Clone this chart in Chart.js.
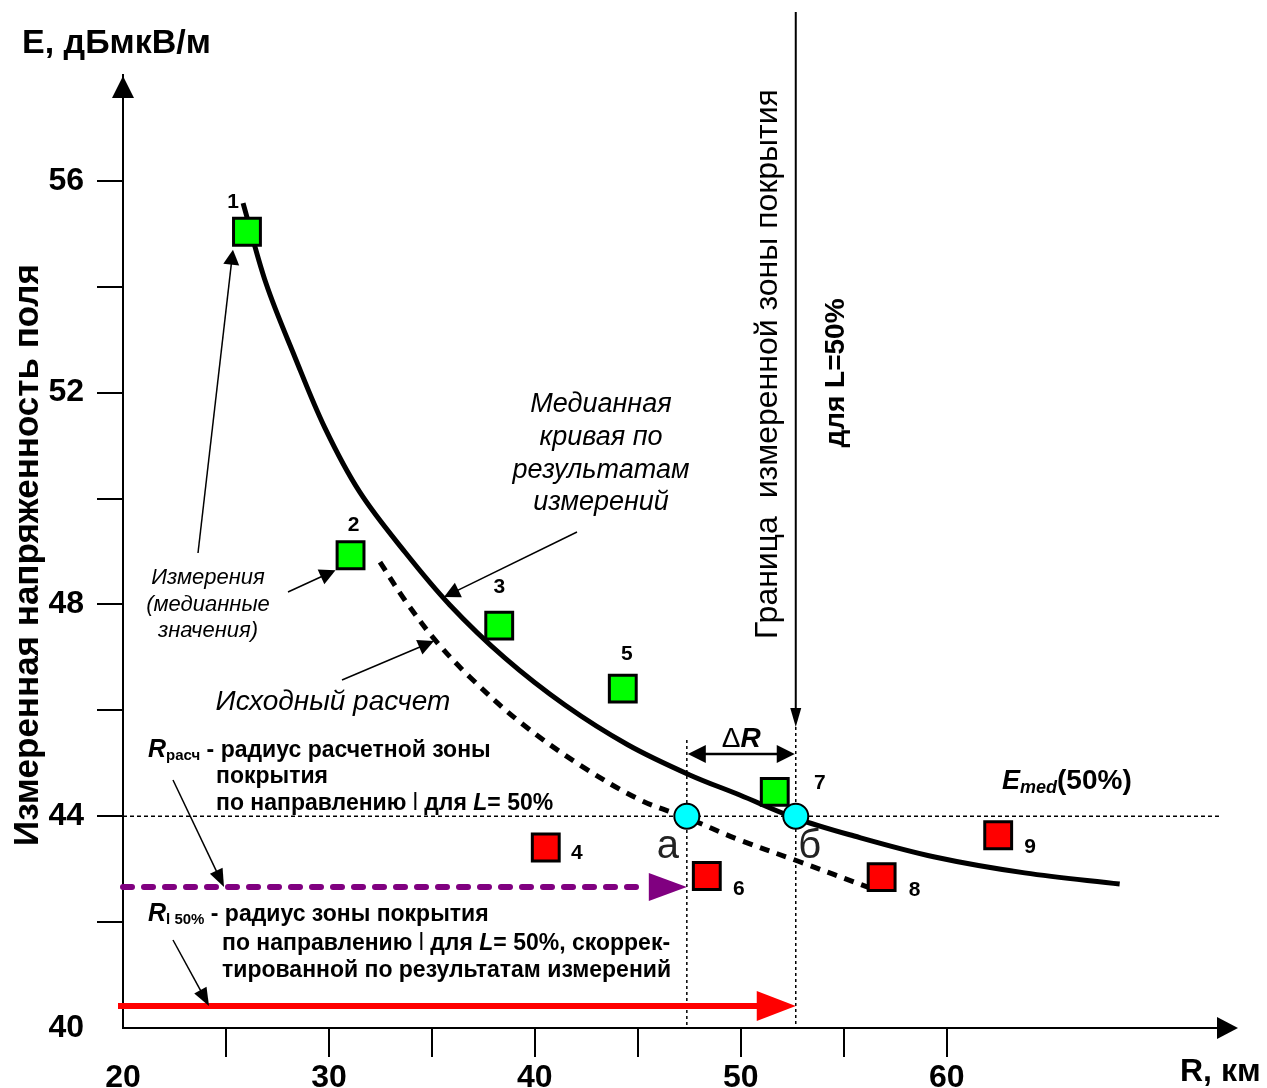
<!DOCTYPE html>
<html>
<head>
<meta charset="utf-8">
<script src="https://cdn.jsdelivr.net/npm/chart.js@4.4.1/dist/chart.umd.min.js"></script>
<style>
  html, body { margin: 0; padding: 0; background: #fff; }
  #wrap { width: 1267px; height: 1088px; }
</style>
</head>
<body>
<div id="wrap"><canvas id="chart" width="1267" height="1088"></canvas></div>
<script>
// axes
const xTicks = [20, 25, 30, 35, 40, 45, 50, 55, 60];
const xLabels = [20, 30, 40, 50, 60];
const yTicks = [40, 42, 44, 46, 48, 50, 52, 54, 56];
const yLabels = [40, 44, 48, 52, 56];

// median curve from measurements
const medianR = [25.83, 26.94, 28.35, 29.81, 31.50, 33.69, 35.87, 38.54, 41.46, 44.51, 47.52, 49.95, 52.62, 55.29, 59.42, 63.79, 68.40];
const medianE = [55.58, 54.07, 52.67, 51.33, 50.12, 48.99, 47.99, 46.99, 46.10, 45.35, 44.78, 44.40, 43.97, 43.65, 43.23, 42.93, 42.72];

// initial calculation (dashed)
const calcR = [32.48, 33.69, 35.15, 36.84, 39.27, 42.18, 45.10, 47.38, 49.95, 52.86, 56.17];
const calcE = [48.80, 48.08, 47.33, 46.63, 45.78, 44.97, 44.31, 43.97, 43.55, 43.14, 42.66];

// measured points
const greenR = [26.02, 31.05, 38.27, 44.27, 51.65];
const greenE = [55.04, 48.93, 47.60, 46.41, 44.46];
const greenIds = ["1", "2", "3", "5", "7"];
const redR = [40.53, 48.35, 56.84, 62.50];
const redE = [43.41, 42.87, 42.85, 43.64];
const redIds = ["4", "6", "8", "9"];

// crossings with E = Emed(50%)
const eMed = 44;
const crossR = [47.38, 52.67];
const crossIds = ["а", "б"];

const FONT = "'Liberation Sans', Arial, sans-serif";
const pts = (xs, ys) => xs.map((x, i) => ({ x: x, y: ys[i] }));

// label offsets in px for point numbers
const greenOff = [[-14, -30], [3, -30], [0, -38], [4, -34], [45, -9]];
const redOff = [[31, 6], [32, 13], [33, 13], [32, 12]];

function arrowHead(ctx, x1, y1, x2, y2, len, half, color) {
  const a = Math.atan2(y2 - y1, x2 - x1);
  ctx.save();
  ctx.fillStyle = color;
  ctx.beginPath();
  ctx.moveTo(x2, y2);
  ctx.lineTo(x2 - len * Math.cos(a) + half * Math.sin(a), y2 - len * Math.sin(a) - half * Math.cos(a));
  ctx.lineTo(x2 - len * Math.cos(a) - half * Math.sin(a), y2 - len * Math.sin(a) + half * Math.cos(a));
  ctx.closePath();
  ctx.fill();
  ctx.restore();
}

function arrow(ctx, x1, y1, x2, y2, opt) {
  const o = Object.assign({ w: 1.5, len: 16, half: 7, color: "#000", dash: [] }, opt || {});
  const a = Math.atan2(y2 - y1, x2 - x1);
  ctx.save();
  ctx.strokeStyle = o.color;
  ctx.lineWidth = o.w;
  ctx.setLineDash(o.dash);
  ctx.beginPath();
  ctx.moveTo(x1, y1);
  ctx.lineTo(x2 - (o.len - 2) * Math.cos(a), y2 - (o.len - 2) * Math.sin(a));
  ctx.stroke();
  ctx.restore();
  arrowHead(ctx, x1, y1, x2, y2, o.len, o.half, o.color);
}

function line(ctx, x1, y1, x2, y2, w, dash) {
  ctx.save();
  ctx.strokeStyle = "#000";
  ctx.lineWidth = w;
  ctx.setLineDash(dash || []);
  ctx.beginPath();
  ctx.moveTo(x1, y1);
  ctx.lineTo(x2, y2);
  ctx.stroke();
  ctx.restore();
}

// parts: [text, font, dy]
function rich(ctx, x, y, parts, align) {
  ctx.save();
  ctx.fillStyle = "#000";
  ctx.textBaseline = "alphabetic";
  ctx.textAlign = "left";
  let total = 0;
  parts.forEach(p => { ctx.font = p[1]; total += ctx.measureText(p[0]).width; });
  let cx = align === "center" ? x - total / 2 : x;
  parts.forEach(p => {
    ctx.font = p[1];
    ctx.fillText(p[0], cx, y + (p[2] || 0));
    cx += ctx.measureText(p[0]).width;
  });
  ctx.restore();
}

function text(ctx, s, x, y, font, align, rot) {
  ctx.save();
  ctx.fillStyle = "#000";
  ctx.font = font;
  ctx.textAlign = align || "left";
  ctx.textBaseline = rot ? "middle" : "alphabetic";
  ctx.translate(x, y);
  if (rot) ctx.rotate(rot);
  ctx.fillText(s, 0, 0);
  ctx.restore();
}

const annot = {
  id: "annot",
  beforeDatasetsDraw(chart) {
    const ctx = chart.ctx;
    const xs = chart.scales.x, ys = chart.scales.y;
    const yMed = ys.getPixelForValue(eMed);
    const yAxis = ys.getPixelForValue(40);
    const xa = xs.getPixelForValue(crossR[0]);
    const xb = xs.getPixelForValue(crossR[1]);
    // Emed line
    line(ctx, xs.getPixelForValue(20), yMed, 1220, yMed, 1.5, [4, 3]);
    // vertical dotted lines
    line(ctx, xa, 740, xa, yAxis, 1.5, [3, 3]);
    line(ctx, xb, 727, xb, yAxis, 1.5, [3, 3]);
    // coverage boundary arrow
    arrow(ctx, xb, 12, xb, 727, { w: 2, len: 19, half: 5.5 });
  },
  afterDatasetsDraw(chart) {
    const ctx = chart.ctx;
    const xs = chart.scales.x;
    const xa = xs.getPixelForValue(crossR[0]);
    const xb = xs.getPixelForValue(crossR[1]);
    const left = chart.chartArea.left, bottom = chart.chartArea.bottom;

    // axis arrows
    arrowHead(ctx, 0, bottom, 1238, bottom, 21, 11, "#000");
    arrowHead(ctx, left, 500, left, 76, 22, 11, "#000");

    // delta R
    const yd = 754;
    line(ctx, xa + 10, yd, xb - 10, yd, 2.5);
    arrowHead(ctx, xb, yd, xa + 1, yd, 18, 9, "#000");
    arrowHead(ctx, xa, yd, xb - 1, yd, 18, 9, "#000");
    rich(ctx, (xa + xb) / 2, 747, [["Δ", "28px " + FONT], ["R", "italic bold 28px " + FONT]], "center");

    // purple dashed arrow (R calc)
    const yp = 887;
    ctx.save();
    ctx.strokeStyle = "#800080";
    ctx.lineWidth = 6;
    ctx.lineCap = "round";
    ctx.setLineDash([9, 12]);
    ctx.beginPath();
    ctx.moveTo(left, yp);
    ctx.lineTo(xa - 40, yp);
    ctx.stroke();
    ctx.restore();
    arrowHead(ctx, left, yp, xa, yp, 38, 14, "#800080");

    // red arrow (R l 50%)
    const yr = 1006;
    ctx.save();
    ctx.strokeStyle = "#ff0000";
    ctx.lineWidth = 6;
    ctx.beginPath();
    ctx.moveTo(left - 5, yr);
    ctx.lineTo(xb - 36, yr);
    ctx.stroke();
    ctx.restore();
    arrowHead(ctx, left, yr, xb, yr, 39, 15, "#ff0000");

    // pointer arrows
    const g = chart.getDatasetMeta(2).data;
    arrow(ctx, 198, 553, g[0].x - 14, g[0].y + 18, { len: 15, half: 8 });
    arrow(ctx, 288, 592, g[1].x - 15, g[1].y + 15, { len: 16, half: 8 });
    arrow(ctx, 577, 532, 444, 597, { len: 16, half: 8 });
    arrow(ctx, 342, 680, 434, 641, { len: 16, half: 8 });
    arrow(ctx, 173, 780, 224, yp, { len: 18, half: 7 });
    arrow(ctx, 173, 940, 209, yr, { len: 18, half: 7 });

    // point numbers
    ctx.save();
    ctx.font = "bold 21px " + FONT;
    ctx.fillStyle = "#000";
    ctx.textAlign = "center";
    ctx.textBaseline = "middle";
    g.forEach((p, i) => ctx.fillText(greenIds[i], p.x + greenOff[i][0], p.y + greenOff[i][1]));
    chart.getDatasetMeta(3).data.forEach((p, i) => ctx.fillText(redIds[i], p.x + redOff[i][0], p.y + redOff[i][1]));
    ctx.restore();

    // crossing letters
    ctx.save();
    ctx.font = "40px " + FONT;
    ctx.fillStyle = "#222";
    ctx.textAlign = "center";
    ctx.fillText(crossIds[0], xa - 19, 858);
    ctx.fillText(crossIds[1], xb + 14, 858);
    ctx.restore();

    // axis titles
    text(ctx, "E, дБмкВ/м", 22, 53, "bold 34px " + FONT);
    text(ctx, "R, км", 1180, 1081, "bold 32px " + FONT);
    text(ctx, "Измеренная напряженность поля", 28, 555, "bold 35px " + FONT, "center", -Math.PI / 2);
    text(ctx, "Граница  измеренной зоны покрытия", 768, 364, "32px " + FONT, "center", -Math.PI / 2);
    text(ctx, "для L=50%", 836, 373, "bold 28px " + FONT, "center", -Math.PI / 2);

    // notes
    const it27 = "italic 27px " + FONT;
    text(ctx, "Медианная", 601, 412, it27, "center");
    text(ctx, "кривая по", 601, 445, it27, "center");
    text(ctx, "результатам", 601, 478, it27, "center");
    text(ctx, "измерений", 601, 510, it27, "center");
    const it22 = "italic 22px " + FONT;
    text(ctx, "Измерения", 208, 584, it22, "center");
    text(ctx, "(медианные", 208, 611, it22, "center");
    text(ctx, "значения)", 208, 637, it22, "center");
    text(ctx, "Исходный расчет", 333, 710, "italic 28px " + FONT, "center");

    const b23 = "bold 23px " + FONT, bi23 = "italic bold 23px " + FONT, r23 = "23px " + FONT;
    rich(ctx, 148, 757, [["R", "italic bold 25px " + FONT], ["расч", "bold 15px " + FONT, 3], [" - радиус расчетной зоны", b23]]);
    rich(ctx, 216, 783, [["покрытия", b23]]);
    rich(ctx, 216, 810, [["по направлению ", b23], ["l", r23], [" для ", b23], ["L", bi23], ["= 50%", b23]]);
    rich(ctx, 148, 921, [["R", "italic bold 25px " + FONT], ["l 50%", "bold 15px " + FONT, 3], [" - радиус зоны покрытия", b23]]);
    rich(ctx, 222, 950, [["по направлению ", b23], ["l", r23], [" для ", b23], ["L", bi23], ["= 50%, скоррек-", b23]]);
    rich(ctx, 222, 977, [["тированной по результатам измерений", b23]]);

    rich(ctx, 1002, 789, [["E", "italic bold 27px " + FONT], ["med", "italic bold 18px " + FONT, 4], ["(50%)", "bold 28px " + FONT]]);
  }
};

new Chart(document.getElementById("chart"), {
  type: "line",
  data: {
    datasets: [
      { data: pts(medianR, medianE), borderColor: "#000", borderWidth: 5, pointRadius: 0,
        tension: 0.35, fill: false, order: 5 },
      { data: pts(calcR, calcE), borderColor: "#000", borderWidth: 5, borderDash: [10, 8], pointRadius: 0,
        tension: 0.35, fill: false, order: 6 },
      { data: pts(greenR, greenE), showLine: false, pointStyle: "rect", pointRadius: 19,
        pointBorderWidth: 3, pointBorderColor: "#000", pointBackgroundColor: "#00ff00", order: 1 },
      { data: pts(redR, redE), showLine: false, pointStyle: "rect", pointRadius: 19,
        pointBorderWidth: 3, pointBorderColor: "#000", pointBackgroundColor: "#ff0000", order: 2 },
      { data: pts(crossR, crossR.map(() => eMed)), showLine: false, pointStyle: "circle", pointRadius: 12.5,
        pointBorderWidth: 2, pointBorderColor: "#000", pointBackgroundColor: "#00ffff", order: 0 }
    ]
  },
  options: {
    responsive: false,
    animation: false,
    events: [],
    layout: { padding: { top: 75, right: 32, left: 0, bottom: 0 } },
    plugins: { legend: { display: false }, tooltip: { enabled: false } },
    scales: {
      x: {
        type: "linear", min: 20, max: 74,
        afterBuildTicks: s => { s.ticks = xTicks.map(v => ({ value: v })); },
        afterFit: s => { s.height = 60; },
        ticks: {
          callback: v => xLabels.includes(v) ? String(v) : "",
          font: { family: FONT, size: 32, weight: "bold" }, color: "#000",
          padding: 2, maxRotation: 0, autoSkip: false
        },
        grid: {
          drawOnChartArea: false, tickLength: 29, lineWidth: 2,
          color: c => (c.tick && c.tick.value === 20) ? "rgba(0,0,0,0)" : "#000"
        },
        border: { color: "#000", width: 2 }
      },
      y: {
        type: "linear", min: 40, max: 58,
        afterBuildTicks: s => { s.ticks = yTicks.map(v => ({ value: v })); },
        afterFit: s => { s.width = 123; },
        ticks: {
          callback: v => yLabels.includes(v) ? String(v) : "",
          font: { family: FONT, size: 32, weight: "bold" }, color: "#000",
          padding: 13, autoSkip: false
        },
        grid: {
          drawOnChartArea: false, tickLength: 26, lineWidth: 2,
          color: c => (c.tick && c.tick.value === 40) ? "rgba(0,0,0,0)" : "#000"
        },
        border: { color: "#000", width: 2 }
      }
    }
  },
  plugins: [annot]
});
</script>
</body>
</html>
